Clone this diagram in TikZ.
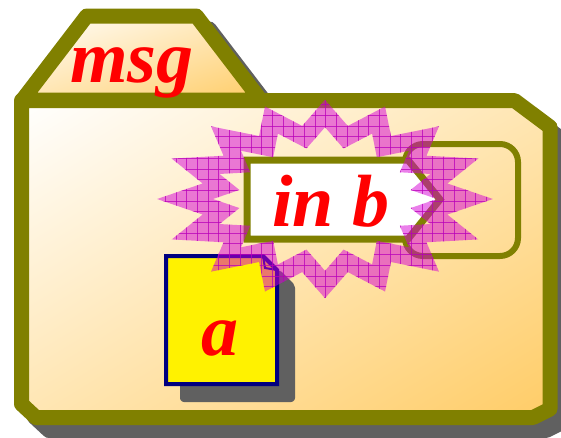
\documentclass[tikz,border=0pt]{standalone}
\usepackage{fontspec}
\setmainfont{Liberation Serif}
\usetikzlibrary{shadings}
\definecolor{olv}{RGB}{128,128,0}
\definecolor{shd}{RGB}{96,96,96}
\definecolor{orng}{RGB}{255,204,102}
\definecolor{orngmid}{RGB}{255,230,179}
\definecolor{navyc}{RGB}{0,0,128}
\definecolor{bandc}{RGB}{214,0,214}
\definecolor{gridc}{RGB}{185,0,185}
\def\stTA{140}\def\stTB{85.5}\def\stVA{106}\def\stVB{63}\def\stHW{9}
\def\stCX{325}\def\stCY{199}
\newcommand\stPoint[1]{%
  \pgfmathsetmacro\stang{(#1)*11.25}%
  \pgfmathtruncatemacro\stpar{mod((#1)+64,2)}%
  \ifnum\stpar=0 \let\stra\stTA\let\strb\stTB\else\let\stra\stVA\let\strb\stVB\fi
  \pgfmathsetmacro\stx{\stCX+\stra*cos(\stang)}%
  \pgfmathsetmacro\sty{\stCY-\strb*sin(\stang)}%
}
\tikzset{
  lbl/.style={text=red, inner sep=0pt, anchor=base,
    font=\fontsize{74}{80}\selectfont\bfseries\itshape},
  folderline/.style={draw=olv, line width=15pt, line join=round},
  shadowfill/.style={fill=shd, draw=shd, line join=round},
  warmshade/.style={upper left=white, upper right=orngmid, lower left=orngmid, lower right=orng},
}
\begin{document}
\begin{tikzpicture}[x=1pt,y=-1pt]
\useasboundingbox (0,0) rectangle (561,437);
\clip (0,0) rectangle (561,437);
\fill[white] (0,0) rectangle (561,437);
% folder shadow
\begin{scope}[shift={(13,13)}]
  \path[shadowfill, line width=15pt] (22.4,100) -- (86.7,16) -- (196.3,16) -- (260.6,100) -- cycle;
  \path[shadowfill, line width=15pt] (21.5,100.5) -- (514.5,100.5) -- (550,127) -- (550,409) -- (533,417.5) -- (36,417.5) -- (21.5,404) -- cycle;
\end{scope}
% tab
\shade[warmshade] (22.4,100) -- (86.7,16) -- (196.3,16) -- (260.6,100) -- cycle;
\draw[folderline] (22.4,100) -- (86.7,16) -- (196.3,16) -- (260.6,100) -- cycle;
% body
\shade[warmshade] (21.5,100.5) -- (514.5,100.5) -- (550,127) -- (550,409) -- (533,417.5) -- (36,417.5) -- (21.5,404) -- cycle;
\draw[folderline] (21.5,100.5) -- (514.5,100.5) -- (550,127) -- (550,409) -- (533,417.5) -- (36,417.5) -- (21.5,404) -- cycle;
\node[lbl] (msg) at (132,82) {msg};
% note a
\path[shadowfill, line width=4pt, rounded corners=2pt] (182,272) -- (279,272) -- (293,286) -- (293,400) -- (182,400) -- cycle;
\filldraw[draw=navyc, fill=yellow, line width=4pt, line join=miter] (166,256) -- (263,256) -- (277,270) -- (277,384) -- (166,384) -- cycle;
\draw[navyc, line width=2pt] (263,256) -- (265,268) -- (277,270);
\node[lbl] (a) at (220,355) {a};
% rounded box
\draw[olv, line width=6pt, rounded corners=18pt] (405,144) rectangle (518,256);
% in b box
\filldraw[draw=olv, fill=white, line width=7pt, line join=miter] (247,160) -- (408,160) -- (440,199.5) -- (408,239) -- (247,239) -- cycle;
\node[lbl] (inb) at (331,226) {in b};
% starburst band
\foreach \k in {0,...,31}{
  \stPoint{\k-1}\let\stpx\stx\let\stpy\sty
  \stPoint{\k}\let\stqx\stx\let\stqy\sty
  \stPoint{\k+1}\let\strx\stx\let\stry\sty
  \pgfmathsetmacro\stax{\stqx-\stpx}
  \pgfmathsetmacro\stay{\stqy-\stpy}
  \pgfmathsetmacro\stla{veclen(\stax,\stay)}
  \pgfmathsetmacro\stbx{\strx-\stqx}
  \pgfmathsetmacro\stby{\stry-\stqy}
  \pgfmathsetmacro\stlb{veclen(\stbx,\stby)}
  \pgfmathsetmacro\stnax{(\stay)/\stla}
  \pgfmathsetmacro\stnay{-1*(\stax)/\stla}
  \pgfmathsetmacro\stnbx{(\stby)/\stlb}
  \pgfmathsetmacro\stnby{-1*(\stbx)/\stlb}
  \pgfmathsetmacro\stden{1+(\stnax)*(\stnbx)+(\stnay)*(\stnby)}
  \pgfmathsetmacro\stmx{\stHW*((\stnax)+(\stnbx))/\stden}
  \pgfmathsetmacro\stmy{\stHW*((\stnay)+(\stnby))/\stden}
  \coordinate (so\k) at ({\stqx+(\stmx)},{\stqy+(\stmy)});
  \coordinate (si\k) at ({\stqx-(\stmx)},{\stqy-(\stmy)});
}
\begin{scope}[even odd rule]
  \clip (so0) \foreach \k in {1,...,31}{ -- (so\k)} -- cycle
        (si0) \foreach \k in {1,...,31}{ -- (si\k)} -- cycle;
  \fill[bandc, opacity=0.5] (140,85) rectangle (510,315);
  \foreach \g in {0,...,34}{
    \draw[gridc, line width=0.8pt, opacity=0.75] ({154.6+10.7*\g},85) -- ++(0,230);
  }
  \foreach \g in {0,...,21}{
    \draw[gridc, line width=0.8pt, opacity=0.75] (140,{94+10.7*\g}) -- ++(370,0);
  }
\end{scope}
\end{tikzpicture}
\end{document}
